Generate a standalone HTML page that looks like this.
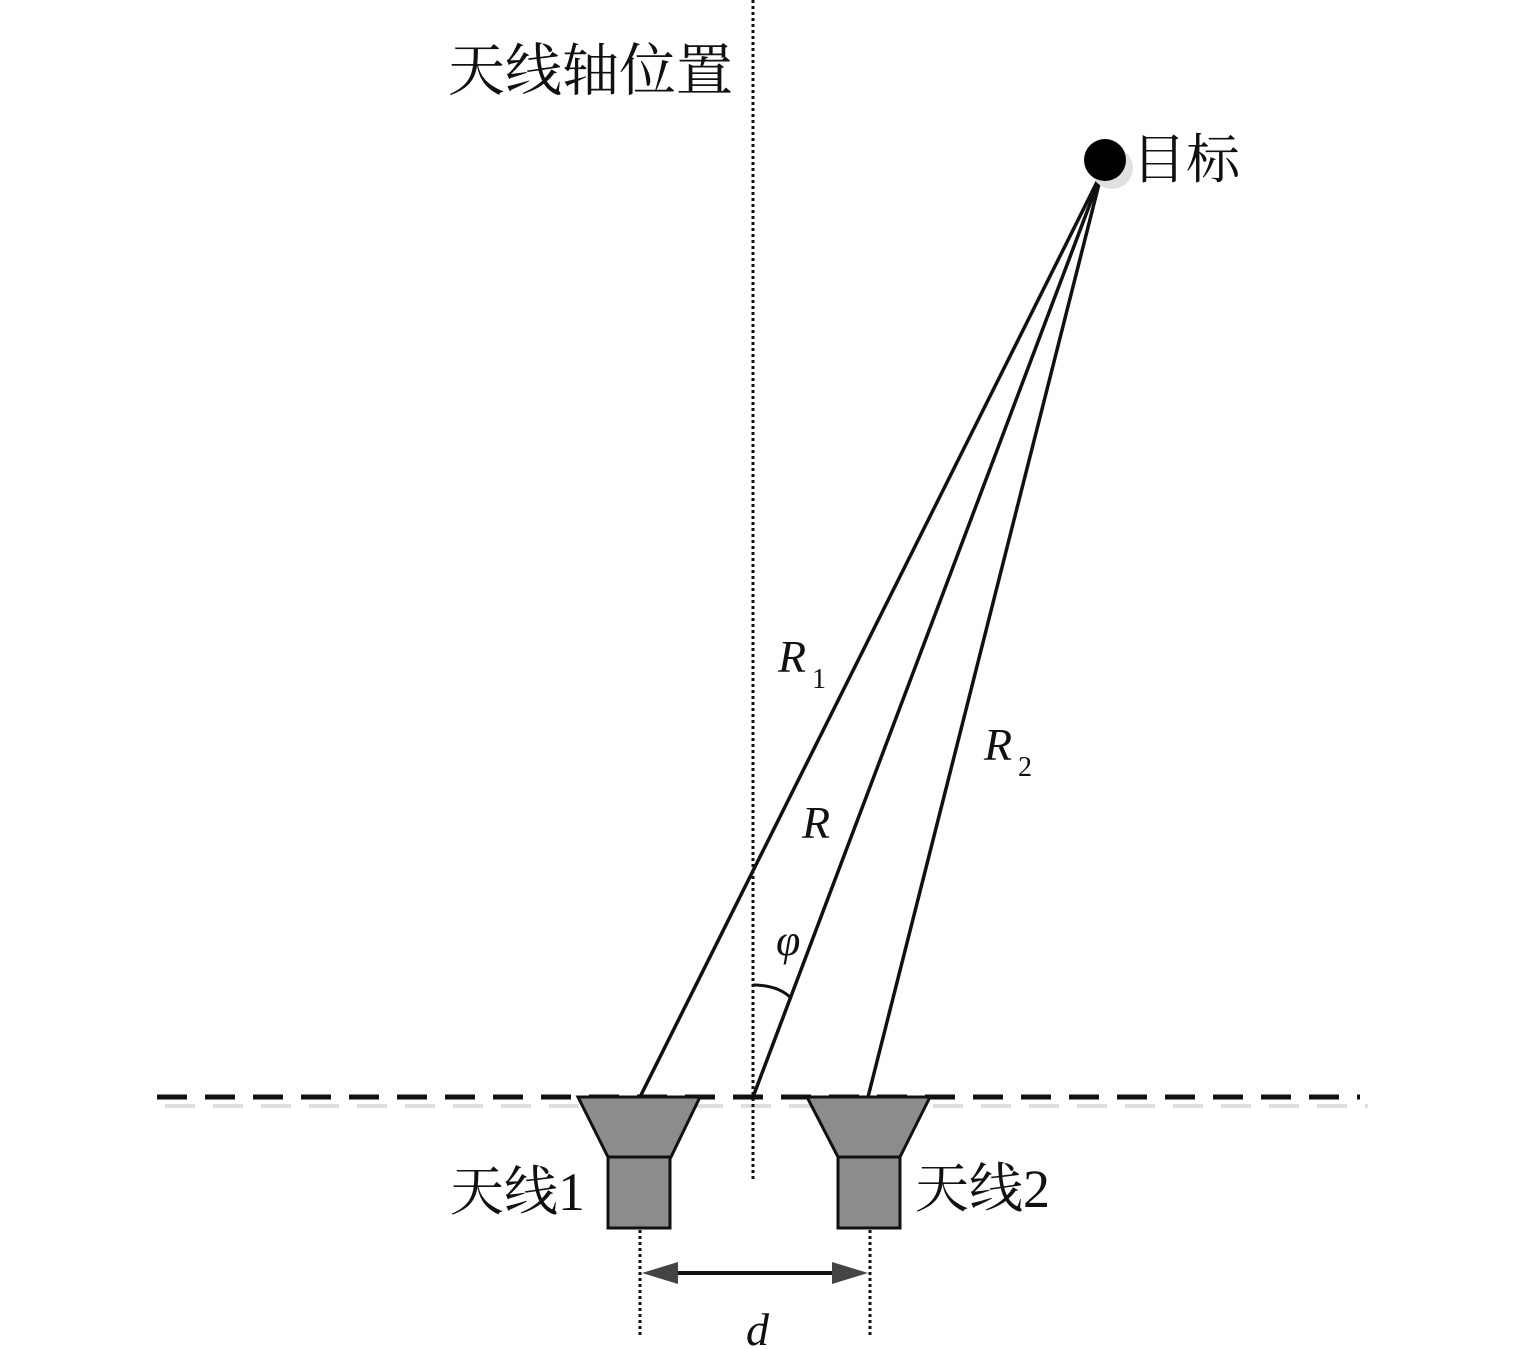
<!DOCTYPE html>
<html><head><meta charset="utf-8"><style>
body{margin:0;background:#fff}
svg{display:block}
text{font-family:"Liberation Serif","Noto Serif CJK SC",serif;fill:#111}
.cjk{font-family:"Liberation Serif","Noto Serif CJK SC","Noto Sans CJK SC",serif}
.it{font-style:italic}
</style></head><body>
<svg width="1535" height="1349" viewBox="0 0 1535 1349" xmlns="http://www.w3.org/2000/svg">
<line x1="165" y1="1106" x2="1368" y2="1106" stroke="#ddd" stroke-width="4" stroke-dasharray="30 18"/>
<line x1="157" y1="1097" x2="1360" y2="1097" stroke="#111" stroke-width="5" stroke-dasharray="30 18"/>
<line x1="753" y1="0" x2="753" y2="1180" stroke="#111" stroke-width="3" stroke-dasharray="3 3"/>
<g stroke="#111" stroke-width="3.5">
<line x1="1102" y1="172" x2="640" y2="1097"/>
<line x1="1102" y1="172" x2="753" y2="1097"/>
<line x1="1102" y1="172" x2="868" y2="1097"/>
</g>
<path d="M753,985 Q778,985 791,998" stroke="#111" stroke-width="3" fill="none"/>
<circle cx="1112" cy="168" r="21" fill="#e0e0e0"/>
<circle cx="1105" cy="160" r="21" fill="#000"/>
<g stroke="#111" stroke-width="3" fill="#8c8c8c">
<polygon points="578,1097 700,1097 671,1157 608,1157"/>
<rect x="608" y="1157" width="62" height="71"/>
<polygon points="807,1097 930,1097 900,1157 838,1157"/>
<rect x="838" y="1157" width="62" height="71"/>
</g>
<g stroke="#111" stroke-width="3" stroke-dasharray="3 3">
<line x1="640" y1="1230" x2="640" y2="1338"/>
<line x1="870" y1="1230" x2="870" y2="1338"/>
</g>
<line x1="670" y1="1273" x2="840" y2="1273" stroke="#111" stroke-width="4"/>
<path d="M642,1273L678,1262L678,1284z M868,1273L832,1262L832,1284z" fill="#444"/>
<text x="448" y="90" font-size="57" class="cjk">天线轴位置</text>
<text x="1132" y="178" font-size="54" class="cjk">目标</text>
<text x="450" y="1210" font-size="54" class="cjk">天线1</text>
<text x="915" y="1207" font-size="54" class="cjk">天线2</text>
<text x="778" y="672" font-size="46" class="it">R</text><text x="812" y="688" font-size="28">1</text>
<text x="984" y="760" font-size="46" class="it">R</text><text x="1018" y="776" font-size="28">2</text>
<text x="802" y="838" font-size="46" class="it">R</text>
<text x="776" y="955" font-size="44" class="it">φ</text>
<text x="746" y="1345" font-size="46" class="it">d</text>
</svg>
</body></html>
